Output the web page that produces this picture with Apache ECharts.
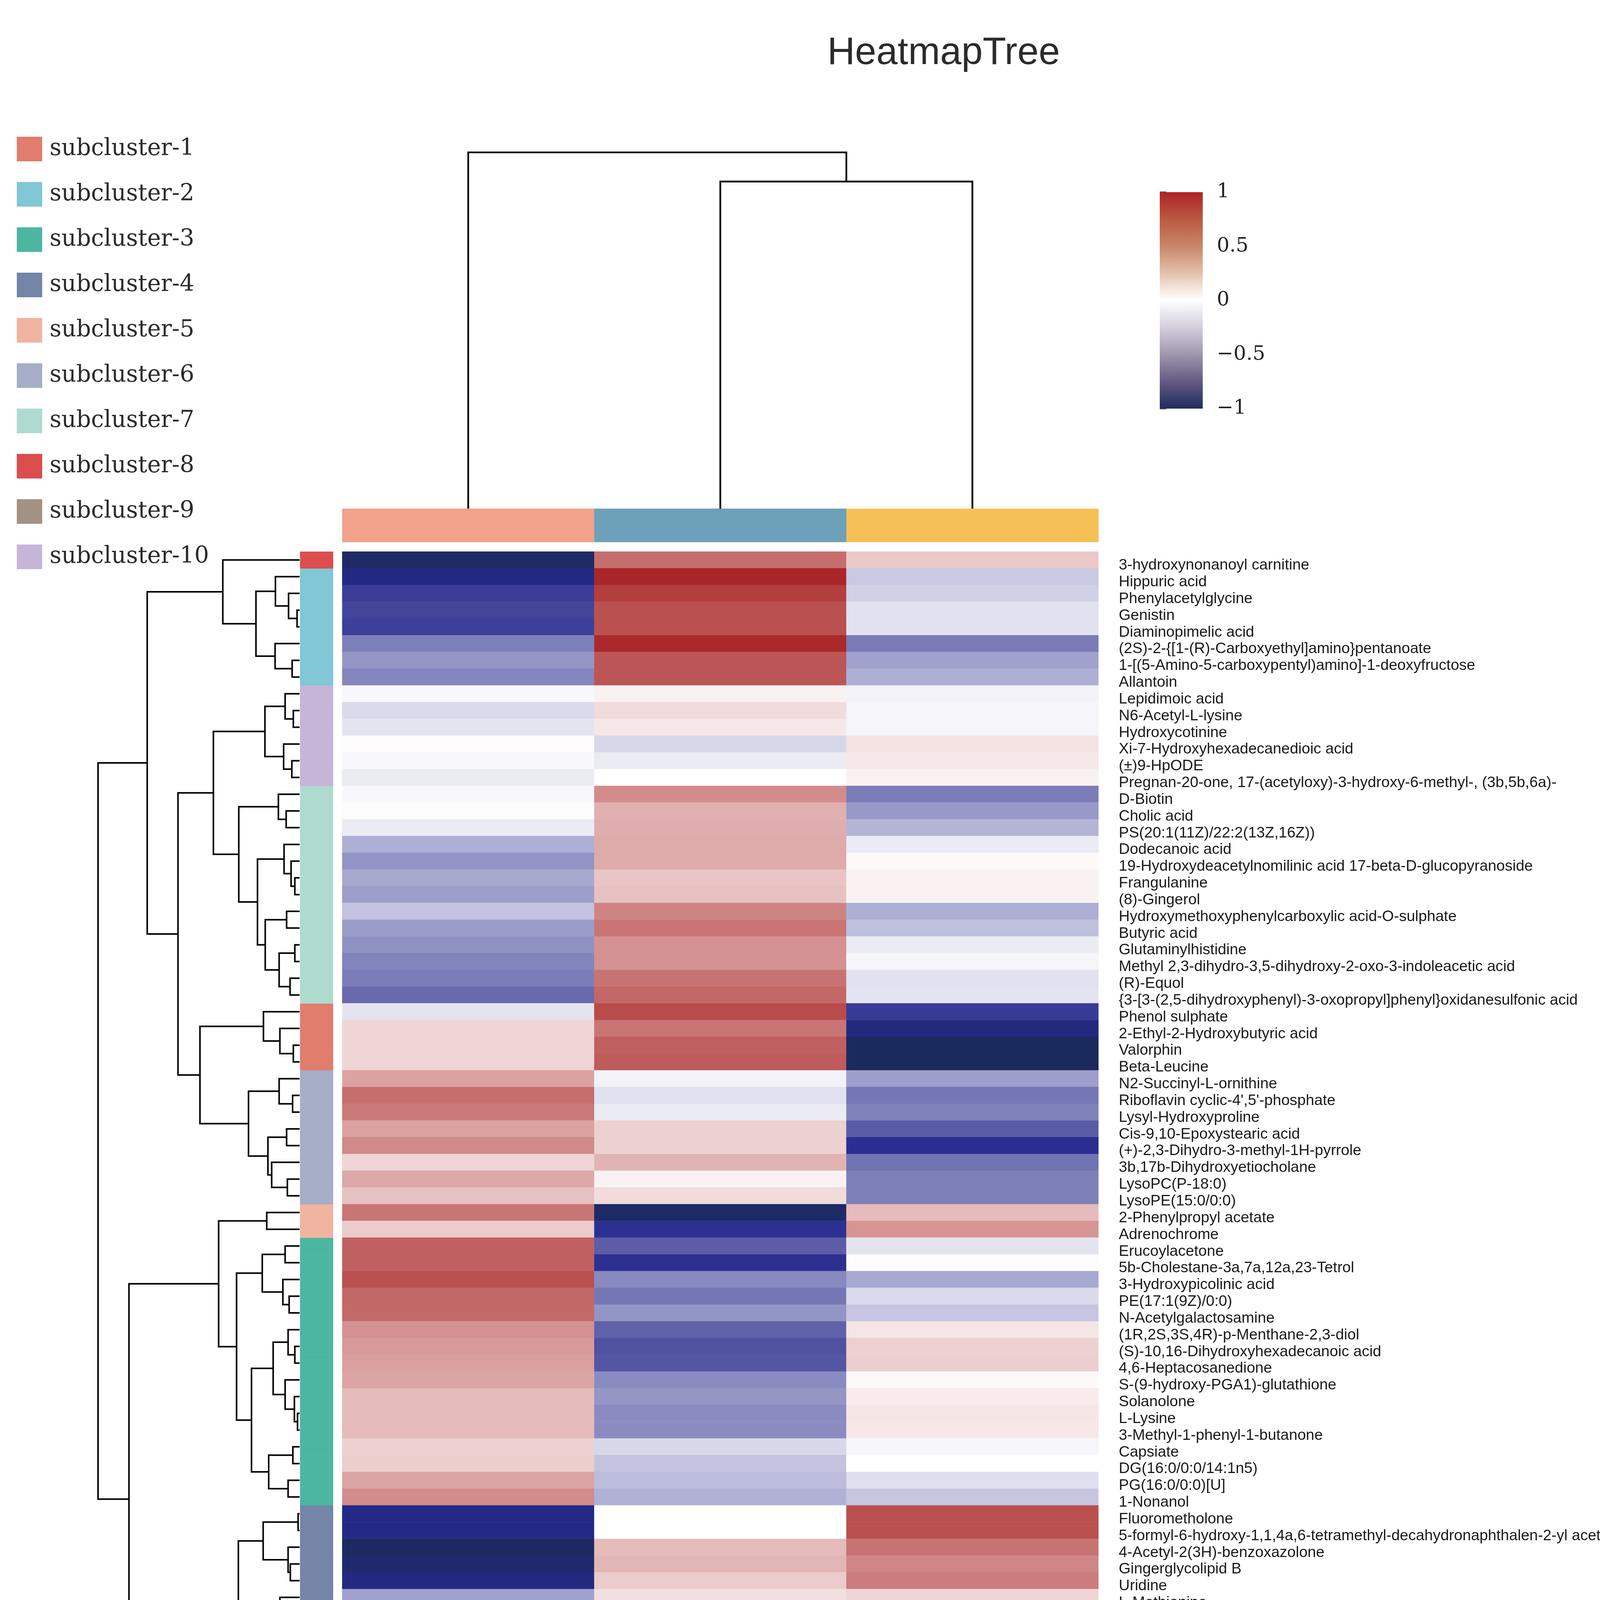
<!DOCTYPE html>
<html><head><meta charset="utf-8">
<script src="https://cdn.jsdelivr.net/npm/echarts/dist/echarts.min.js"></script>
<style>html,body{margin:0;padding:0;background:#fff}#c{width:4234px;height:5174px}</style>
</head><body><div id="c"></div>
<script>
const rowNames = [
"3-hydroxynonanoyl carnitine","Hippuric acid","Phenylacetylglycine","Genistin","Diaminopimelic acid",
"(2S)-2-{[1-(R)-Carboxyethyl]amino}pentanoate","1-[(5-Amino-5-carboxypentyl)amino]-1-deoxyfructose","Allantoin",
"Lepidimoic acid","N6-Acetyl-L-lysine","Hydroxycotinine","Xi-7-Hydroxyhexadecanedioic acid","(±)9-HpODE",
"Pregnan-20-one, 17-(acetyloxy)-3-hydroxy-6-methyl-, (3b,5b,6a)-",
"D-Biotin","Cholic acid","PS(20:1(11Z)/22:2(13Z,16Z))","Dodecanoic acid",
"19-Hydroxydeacetylnomilinic acid 17-beta-D-glucopyranoside","Frangulanine","(8)-Gingerol",
"Hydroxymethoxyphenylcarboxylic acid-O-sulphate","Butyric acid","Glutaminylhistidine",
"Methyl 2,3-dihydro-3,5-dihydroxy-2-oxo-3-indoleacetic acid","(R)-Equol",
"{3-[3-(2,5-dihydroxyphenyl)-3-oxopropyl]phenyl}oxidanesulfonic acid",
"Phenol sulphate","2-Ethyl-2-Hydroxybutyric acid","Valorphin","Beta-Leucine",
"N2-Succinyl-L-ornithine","Riboflavin cyclic-4',5'-phosphate","Lysyl-Hydroxyproline","Cis-9,10-Epoxystearic acid",
"(+)-2,3-Dihydro-3-methyl-1H-pyrrole","3b,17b-Dihydroxyetiocholane","LysoPC(P-18:0)","LysoPE(15:0/0:0)",
"2-Phenylpropyl acetate","Adrenochrome",
"Erucoylacetone","5b-Cholestane-3a,7a,12a,23-Tetrol","3-Hydroxypicolinic acid","PE(17:1(9Z)/0:0)",
"N-Acetylgalactosamine","(1R,2S,3S,4R)-p-Menthane-2,3-diol","(S)-10,16-Dihydroxyhexadecanoic acid",
"4,6-Heptacosanedione","S-(9-hydroxy-PGA1)-glutathione","Solanolone","L-Lysine","3-Methyl-1-phenyl-1-butanone",
"Capsiate","DG(16:0/0:0/14:1n5)","PG(16:0/0:0)[U]","1-Nonanol",
"Fluorometholone","5-formyl-6-hydroxy-1,1,4a,6-tetramethyl-decahydronaphthalen-2-yl acetate",
"4-Acetyl-2(3H)-benzoxazolone","Gingerglycolipid B","Uridine","L-Methionine","2-Hydroxyphenethylamine",
"12-Oxo-2,3-dinor-10,15-phytodienoic acid","Urocanic acid",
"6-[(E)-2-(3,4-dihydroxyphenyl)ethenyl]-4-methoxy-2H-pyran-2-one","Pfaffic acid","Pisumic acid",
"4-formyl Indole","Alpha-Terpinyl cinnamate","Myristoylglycine","(±)18-HEPE",
"Spirolide E","2-O-a-D-Galactopyranuronosyl-L-rhamnose","Lumichrome","Cibaric acid",
"3-Formyl-6-hydroxyindole","Cysteinyl-Glutamine","Xanthosine"
];
const colNames = ["M_EPS","M_5ASA","M_Con"];
const valEPS = [
-0.97,-0.85,-0.72,-0.69,-0.71,-0.43,-0.34,-0.40,
-0.02,-0.11,-0.08,0.01,-0.02,-0.06,
-0.02,-0.01,-0.06,-0.25,-0.35,-0.27,-0.31,-0.18,-0.32,-0.36,-0.41,-0.44,-0.53,
-0.08,0.13,0.13,0.13,
0.30,0.50,0.45,0.30,0.39,0.13,0.28,0.19,
0.47,0.16,
0.56,0.56,0.63,0.53,0.52,0.36,0.33,0.31,0.29,0.21,0.21,0.21,0.14,0.15,0.29,0.38,
-0.83,-0.83,-0.99,-0.93,-0.86,-0.30,-0.53,-0.46,-0.39,-0.43,-0.34,-0.39,-0.45,-0.69,-0.62,-0.53,
-0.59,-0.69,-0.54,-0.20,-0.36,-0.05,-0.04
];
const val5ASA = [
0.50,0.92,0.75,0.63,0.64,0.90,0.60,0.60,
0.04,0.11,0.07,-0.12,-0.06,0.00,
0.38,0.25,0.26,0.27,0.27,0.18,0.19,0.41,0.47,0.36,0.36,0.48,0.53,
0.67,0.47,0.56,0.58,
-0.04,-0.09,-0.06,0.14,0.14,0.24,0.04,0.11,
-0.96,-0.77,
-0.59,-0.77,-0.39,-0.47,-0.35,-0.57,-0.64,-0.62,-0.38,-0.34,-0.38,-0.38,-0.12,-0.18,-0.20,-0.24,
0.00,0.00,0.21,0.23,0.16,0.10,0.19,0.08,0.09,0.12,-0.08,0.00,-0.04,0.04,0.06,0.06,
-0.36,-0.17,-0.17,-0.39,-0.33,-0.65,-0.36
];
const valCon = [
0.17,-0.16,-0.14,-0.09,-0.09,-0.45,-0.30,-0.25,
-0.04,-0.03,-0.03,0.09,0.07,0.04,
-0.44,-0.33,-0.23,-0.06,0.02,0.04,0.04,-0.25,-0.19,-0.06,-0.03,-0.09,-0.08,
-0.73,-0.86,-1.00,-1.00,
-0.31,-0.47,-0.42,-0.60,-0.78,-0.49,-0.43,-0.43,
0.21,0.35,
-0.08,0.01,-0.27,-0.11,-0.17,0.08,0.14,0.15,0.02,0.06,0.08,0.07,-0.03,0.00,-0.10,-0.17,
0.64,0.64,0.48,0.40,0.44,0.13,0.16,0.25,0.20,0.19,0.37,0.34,0.41,0.47,0.39,0.35,
0.90,0.78,0.62,0.56,0.64,0.57,0.35
];
const rowCluster = [
8,2,2,2,2,2,2,2,
10,10,10,10,10,10,
7,7,7,7,7,7,7,7,7,7,7,7,7,
1,1,1,1,
6,6,6,6,6,6,6,6,
5,5,
3,3,3,3,3,3,3,3,3,3,3,3,3,3,3,3,
4,4,4,4,4,4,4,4,4,4,4,4,4,4,4,4,
9,9,9,9,9,9,9
];
const clusterNames = ["subcluster-1","subcluster-2","subcluster-3","subcluster-4","subcluster-5",
"subcluster-6","subcluster-7","subcluster-8","subcluster-9","subcluster-10"];
const clusterColors = ["#E17D6D","#81C7D6","#4DB6A1","#7485A8","#F1B4A1","#A6AEC8","#AFDACF","#DC4D4E","#A39283","#C6B5D9"];
const colGroupColors = ["#F2A18B","#6DA1BA","#F5C156"];
const heatColors = ["#1B2A5C","#26298E","#5A5BA5","#8486BD","#BCBCDC","#FFFFFF","#E6BEBE","#D08686","#BC5656","#B03636","#A51C22"];
// colour-bar gradient as drawn in the reference legend (from -1 to 1)
const colorbarStops = [-1, -0.75, -0.5, -0.25, -0.1, 0, 0.1, 0.25, 0.5, 0.75, 1];
const colorbarColors = ["#1F2B5E","#635B84","#A096AE","#D2CEDC","#EEECF2","#FFFFFF","#F5E8E0","#E3C1AD","#C9866A","#BA5A42","#AF2126"];

// row dendrogram subtrees: [height, left, right]; leaves are row indices
const treeC8C2 = [3.81, 0, [2.165, [1.20, 1, [0.549, 2, [0.126, 3, 4]]], [1.216, 5, [0.371, 6, 7]]]];
const treeC10 = [1.72, [0.719, 8, [0.311, 9, 10]], [0.793, 11, [0.385, 12, 13]]];
const treeC7 = [3.017, [1.053, 14, [0.667, 15, 16]], [2.09, [0.771, 17, [0.423, 18, [0.237, 19, 20]]], [1.705, [0.645, 21, 22], [1.016, [0.237, 23, 24], [0.474, 25, 26]]]]];
const treeC1 = [1.794, 27, [0.978, 28, [0.311, 29, 30]]];
const treeC6 = [2.535, [1.016, 31, [0.348, 32, 33]], [1.572, [0.645, 34, 35], [1.386, 36, [0.608, 37, 38]]]];
const treeC5 = [1.631, 39, 40];
const treeC3 = [3.128, [1.853, [0.719, 41, 42], [0.830, 43, [0.519, 44, 45]]], [2.387, [1.312, [0.571, 46, [0.237, 47, 48]], [0.719, 49, [0.259, 50, [0.104, 51, 52]]]], [1.534, [0.334, 53, 54], [0.571, 55, 56]]]];
const treeC4 = [3.039, [1.809, [0.074, 57, 58], [0.571, 59, [0.46, 60, 61]]], [2.09, [0.978, 62, [0.793, 63, [0.474, 64, [0.237, 65, 66]]]], [1.401, [0.534, 67, [0.474, 68, 69]], [0.756, 70, [0.311, 71, 72]]]]];
const treeC9 = [3.202, [1.253, 73, [0.830, 74, 75]], [1.979, [0.867, 76, 77], [1.46, 78, 79]]];
const rowTree = [10, [7.561, treeC8C2, [6.034, [4.277, treeC10, treeC7], [4.944, treeC1, treeC6]]], [8.466, [4.018, treeC5, treeC3], [5.241, treeC4, treeC9]]];
const colTree = [10, 0, [9.18, 1, 2]];

function layoutTree(node, segs, swap) {
  if (typeof node === 'number') return {p: node, h: 0};
  const A = layoutTree(node[1], segs, swap), B = layoutTree(node[2], segs, swap), h = node[0];
  const pts = [[A.h, A.p], [h, A.p], [h, B.p], [B.h, B.p]];
  segs.push({coords: swap ? pts.map(q => [q[1], q[0]]) : pts});
  return {p: (A.p + B.p) / 2, h: h};
}
const rowSegs = []; layoutTree(rowTree, rowSegs, false);
const colSegs = []; layoutTree(colTree, colSegs, true);

const heatData = [];
for (let r = 0; r < rowNames.length; r++) {
  heatData.push([0, r, valEPS[r]], [1, r, val5ASA[r]], [2, r, valCon[r]]);
}

const L = {hmL: 876, hmT: 1412, hmW: 1936, hmH: 3427};
const chart = echarts.init(document.getElementById('c'), null, {renderer: 'canvas'});
const hidden = {show: false};
const series = [];
series.push({
  type: 'heatmap', xAxisIndex: 0, yAxisIndex: 0, data: heatData, silent: true,
  itemStyle: {borderWidth: 0}
});
clusterNames.forEach((nm, k) => {
  const rows = [];
  rowCluster.forEach((c, r) => { if (c === k + 1) rows.push([0, r]); });
  series.push({
    type: 'custom', name: nm, xAxisIndex: 1, yAxisIndex: 1, data: rows, silent: true,
    itemStyle: {color: clusterColors[k]}, encode: {x: 0, y: 1},
    renderItem: (params, api) => {
      const r = api.value(1);
      const p1 = api.coord([0, r - 0.5]), p2 = api.coord([1, r + 0.5]);
      return {type: 'rect', shape: {x: p1[0], y: Math.min(p1[1], p2[1]), width: p2[0] - p1[0], height: Math.abs(p2[1] - p1[1]) + 0.6},
        style: {fill: api.visual('color')}};
    }
  });
});
series.push({
  type: 'lines', coordinateSystem: 'cartesian2d', xAxisIndex: 2, yAxisIndex: 2, polyline: true, silent: true,
  data: rowSegs, lineStyle: {color: '#000', width: 4, opacity: 1, curveness: 0}
});
series.push({
  type: 'lines', coordinateSystem: 'cartesian2d', xAxisIndex: 3, yAxisIndex: 3, polyline: true, silent: true,
  data: colSegs, lineStyle: {color: '#000', width: 4.5, opacity: 1, curveness: 0}
});
series.push({
  type: 'custom', xAxisIndex: 4, yAxisIndex: 4, silent: true, data: colNames.map((n, i) => [i, 0]),
  encode: {x: 0, y: 1},
  renderItem: (params, api) => {
    const c = api.value(0);
    const p1 = api.coord([c - 0.5, 1]), p2 = api.coord([c + 0.5, 0]);
    return {type: 'rect', shape: {x: p1[0], y: p1[1], width: p2[0] - p1[0] + 0.6, height: p2[1] - p1[1]},
      style: {fill: colGroupColors[c]}};
  }
});
series.push({
  type: 'custom', xAxisIndex: 5, yAxisIndex: 5, silent: true, data: [[0, 0]], encode: {x: 0, y: 1},
  renderItem: (params, api) => {
    const p1 = api.coord([0, 1]), p2 = api.coord([1, -1]);
    const stops = colorbarStops.map((v, i) => ({offset: (1 - v) / 2, color: colorbarColors[i]})).reverse();
    return {type: 'rect', shape: {x: p1[0], y: p1[1], width: p2[0] - p1[0], height: p2[1] - p1[1]},
      style: {fill: new echarts.graphic.LinearGradient(0, 0, 0, 1, stops)}};
  }
});

const option = {
  backgroundColor: '#ffffff',
  animation: false,
  title: {text: 'HeatmapTree', left: 2118, top: 88, padding: 0,
    textStyle: {fontFamily: 'Liberation Sans', fontSize: 98, fontWeight: 'normal', color: '#2b2b2b'}},
  legend: {
    data: clusterNames, orient: 'vertical', left: 43, top: 350, padding: 0,
    icon: 'rect', itemWidth: 65, itemHeight: 63, itemGap: 53, selectedMode: false,
    textStyle: {fontFamily: 'DejaVu Serif', fontSize: 59, color: '#2b2b2b', padding: [0, 0, 0, 14]}
  },
  visualMap: {type: 'continuous', min: -1, max: 1, show: false, seriesIndex: 0, inRange: {color: heatColors}},
  grid: [
    {left: L.hmL, top: L.hmT, width: L.hmW, height: L.hmH},
    {left: 768, top: L.hmT, width: 85, height: L.hmH},
    {left: 251, top: L.hmT, width: 516, height: L.hmH},
    {left: L.hmL, top: 390, width: L.hmW, height: 912},
    {left: L.hmL, top: 1302, width: L.hmW, height: 86},
    {left: 2969, top: 492, width: 110, height: 554}
  ],
  xAxis: [
    {type: 'category', gridIndex: 0, data: colNames, position: 'bottom',
      axisLine: hidden, axisTick: hidden, splitLine: hidden,
      axisLabel: {rotate: 60, fontFamily: 'Liberation Sans', fontSize: 64, color: '#1a1a1a', margin: 50, interval: 0}},
    {type: 'value', gridIndex: 1, min: 0, max: 1, show: false},
    {type: 'value', gridIndex: 2, min: 0, max: 10, inverse: true, show: false},
    {type: 'value', gridIndex: 3, min: -0.5, max: 2.5, show: false},
    {type: 'value', gridIndex: 4, min: -0.5, max: 2.5, show: false},
    {type: 'value', gridIndex: 5, min: 0, max: 1, show: false}
  ],
  yAxis: [
    {type: 'category', gridIndex: 0, data: rowNames, inverse: true, position: 'right',
      axisLine: hidden, axisTick: hidden, splitLine: hidden,
      axisLabel: {interval: 0, fontFamily: 'Liberation Sans', fontSize: 39, color: '#1a1a1a', margin: 52,
        verticalAlign: 'top', lineHeight: 28}},
    {type: 'value', gridIndex: 1, min: -0.5, max: 79.5, inverse: true, show: false},
    {type: 'value', gridIndex: 2, min: -0.5, max: 79.5, inverse: true, show: false},
    {type: 'value', gridIndex: 3, min: 0, max: 10, show: false},
    {type: 'value', gridIndex: 4, min: 0, max: 1, show: false},
    {type: 'value', gridIndex: 5, min: -1, max: 1, interval: 0.5, position: 'right',
      axisLine: hidden, splitLine: hidden,
      axisTick: {show: true, length: 17, lineStyle: {color: '#666', width: 4}},
      axisLabel: {fontFamily: 'DejaVu Serif', fontSize: 51, color: '#222', margin: 36,
        formatter: v => (v < 0 ? '\u2212' : '') + Math.abs(v)}}
  ],
  series: series
};
chart.setOption(option);
</script></body></html>
